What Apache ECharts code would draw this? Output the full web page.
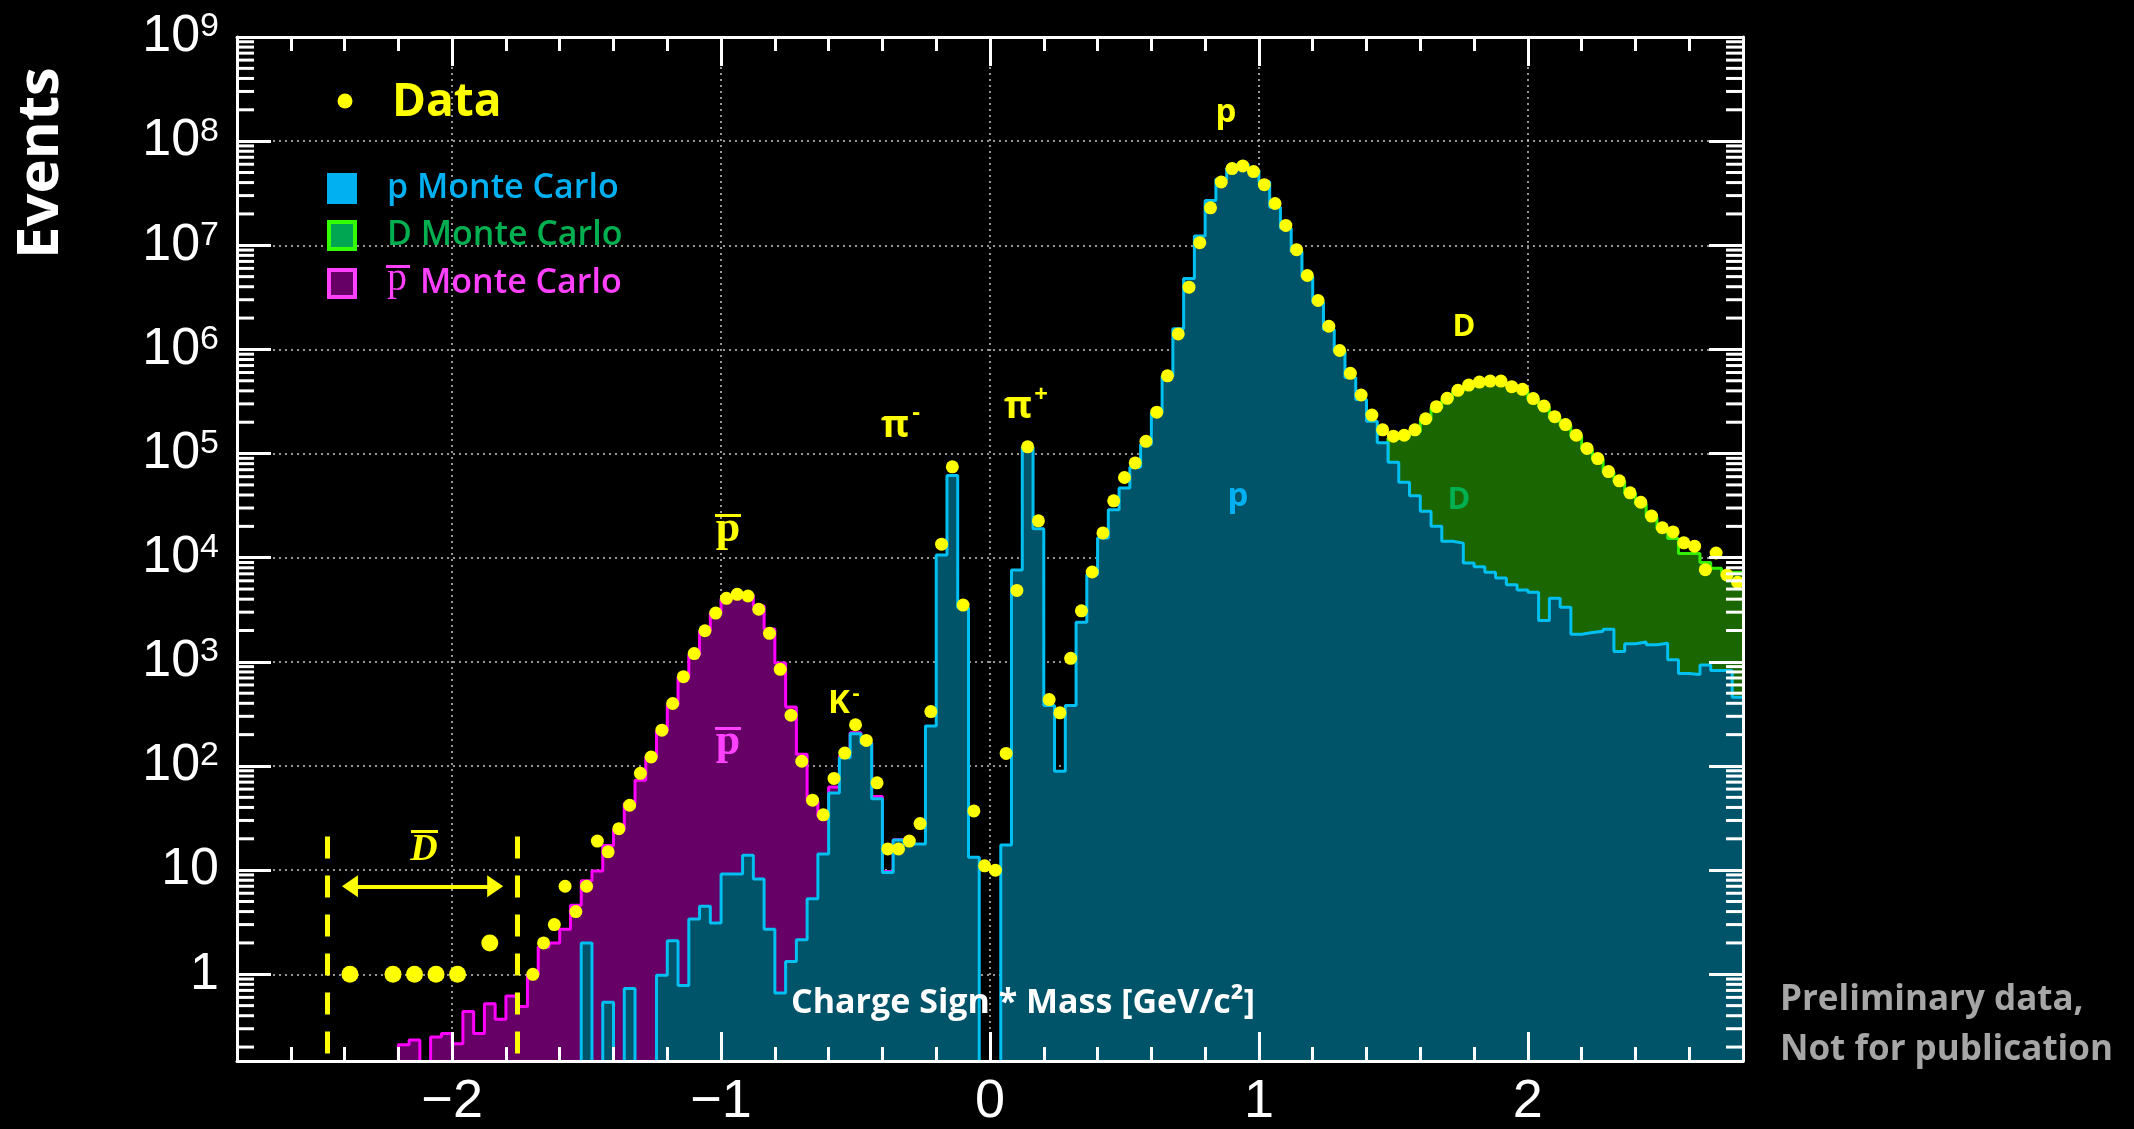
<!DOCTYPE html>
<html>
<head>
<meta charset="utf-8">
<script src="https://cdn.jsdelivr.net/npm/echarts@6/dist/echarts.min.js"></script>
<style>
html,body{margin:0;padding:0;background:#000;}
#chart{width:2134px;height:1129px;}
</style>
</head>
<body>
<div id="chart"></div>
<script>
// ---------- binning ----------
const binLow = -2.8;      // first bin edge
const binWidth = 0.04;    // 140 bins up to +2.8

// ---------- data points (yellow), one value per bin, null = no point ----------
const dataCounts = [
  null,null,null,null,null,null,null,null,null,null,
  null,null,null,null,null,null,null,null,null,null,
  null,null,null,null,null,null,null,1,2,3,
  7,4,7,19,15,25,42,85,122,221,
  398,720,1200,1990,2940,4070,4450,4290,3200,1880,
  847,307,111,47,34,76,133,249,176,69,
  16,16,19,28,333,13500,74600,3510,37,11,
  10,132,4850,116000,22600,434,324,1080,3090,7290,
  17300,35200,58900,81300,131000,250000,558000,1410000,3960000,10600000,
  22900000,40500000,54500000,57800000,51000000,38200000,25200000,15500000,9080000,5130000,
  2950000,1670000,977000,589000,365000,234000,169000,147000,150000,169000,
  216000,282000,339000,405000,455000,486000,497000,497000,439000,414000,
  337000,286000,226000,190000,150000,112000,89500,67100,54700,42000,
  34100,25100,19400,17700,13900,12900,7670,11100,6820,5810
];

// ---------- anti-deuteron candidate region points ----------
const antiDCenters = [-2.38, -2.22, -2.14, -2.06, -1.98, -1.86];
const antiDCounts  = [1, 1, 1, 1, 1, 2];
const antiDWindow  = [-2.465, -1.757];   // dashed window edges
const antiDWindowY = [21, 0.17];         // dashed line vertical extent
const antiDArrow   = [-2.38, -1.84];     // arrow ends
const antiDArrowY  = 7;

// ---------- p Monte Carlo (cyan) ----------
const pMonteCarlo = [
  0,0,0,0,0,0,0,0,0,0,
  0,0,0,0,0,0,0,0,0,0,
  0,0,0,0,0,0,0,0,0,0,
  0,0,2.0,0,0.54,0,0.73,0,0,0.98,
  2.1,0.78,3.4,4.5,3.1,9.2,9.2,13.9,8.2,2.7,
  0.66,1.33,2.14,5.3,14.3,55,120,204,165,48.5,
  9.5,19.5,17.8,17.8,242,10600,61700,3300,13.3,0,
  0,17.4,7600,115000,19000,380,89,380,2400,6900,
  15500,28800,46800,74100,123000,248000,556000,1580000,4790000,12300000,
  26900000,43000000,55000000,60300000,52500000,40700000,23200000,14600000,8700000,5000000,
  2840000,1550000,955000,537000,331000,204000,127000,82600,53100,39300,
  28000,20000,14400,13800,8890,8200,7240,6380,5510,4900,
  4660,2490,4070,3340,1840,1910,1970,2060,1260,1490,
  1550,1460,1510,1050,773,757,933,826,826,458
];

// ---------- anti-proton Monte Carlo (magenta) ----------
const pbarMonteCarlo = [
  0,0,0,0,0,0,0,0,0,0,
  0,0,0,0,0,0.21,0.234,0,0.25,0.27,
  0.215,0.44,0.27,0.52,0.37,0.62,0.49,1.0,1.83,2.0,
  2.7,4.6,7.9,9.8,17.2,24.5,44,73,122,217,
  385,716,1165,1980,2950,4020,4470,4365,3430,2070,
  977,369,130,46,33,63,125,208,168,51,
  9.7,19.6,17.8,0,0,0,0,0,0,0,
  0,0,0,0,0,0,0,0,0,0,
  0,0,0,0,0,0,0,0,0,0,
  0,0,0,0,0,0,0,0,0,0,
  0,0,0,0,0,0,0,0,0,0,
  0,0,0,0,0,0,0,0,0,0,
  0,0,0,0,0,0,0,0,0,0,
  0,0,0,0,0,0,0,0,0,0
];

// ---------- D Monte Carlo (green) ----------
const dMonteCarlo = [
  0,0,0,0,0,0,0,0,0,0,
  0,0,0,0,0,0,0,0,0,0,
  0,0,0,0,0,0,0,0,0,0,
  0,0,0,0,0,0,0,0,0,0,
  0,0,0,0,0,0,0,0,0,0,
  0,0,0,0,0,0,0,0,0,0,
  0,0,0,0,0,0,0,0,0,0,
  0,0,0,0,0,0,0,0,0,0,
  0,0,0,0,0,0,0,0,0,0,
  0,0,0,0,0,0,0,0,0,0,
  0,0,0,0,0,0,0,140000,145000,162000,
  210000,275000,330000,395000,445000,475000,490000,485000,450000,405000,
  330000,280000,220000,185000,147000,110000,88000,66000,54000,41500,
  33000,24500,19000,15300,11000,11000,9000,7900,7250,7250
];

// ---------- axes ----------
const X_MIN = -2.8, X_MAX = 2.8;
const Y_MIN = 0.147, Y_MAX = 1e9;
const yMinorTickMultipliers = [2,3,4,5,6,7,8,9];
const yDecades = [-1,0,1,2,3,4,5,6,7,8];

const EMPTY = 1e-4; // below the axis floor: an empty bin
function histPoints(values) {
  const pts = values.map((v, i) => [+(binLow + i * binWidth).toFixed(4), v > 0 ? v : EMPTY]);
  const last = values[values.length - 1];
  pts.push([+(binLow + values.length * binWidth).toFixed(4), last > 0 ? last : EMPTY]);
  return pts;
}
const dataPoints = [];
dataCounts.forEach((v, i) => { if (v != null) dataPoints.push([+(binLow + (i + 0.5) * binWidth).toFixed(4), v]); });
const antiDPoints = antiDCenters.map((c, i) => [c, antiDCounts[i]]);

const yMinor = [];
yDecades.forEach(d => yMinorTickMultipliers.forEach(m => {
  const v = m * Math.pow(10, d);
  if (v > Y_MIN && v < Y_MAX) yMinor.push([X_MIN, v]);
}));

const WHITE = '#ffffff';
const gridLine = { show: true, lineStyle: { color: '#c8c8c8', type: [2, 4], width: 1.5 } };

function xLabel(v) {
  const r = Math.round(v);
  if (Math.abs(v - r) > 1e-6) return '';
  return r < 0 ? '\u2212' + Math.abs(r) : String(r);
}
function yLabel(v) {
  const l = Math.log10(v);
  const e = Math.round(l);
  if (Math.abs(l - e) > 1e-6) return '';
  if (e === 0) return '{b|1}';
  if (e === 1) return '{b|10}';
  return '{b|10}{s|' + e + '}';
}

const xBase = { type: 'value', min: X_MIN, max: X_MAX, splitNumber: 5 };
const yBase = { type: 'log', logBase: 10, min: Y_MIN, max: Y_MAX, splitNumber: 10 };

const visibleX = (pos, labels) => Object.assign({}, xBase, {
  position: pos, z: 10,
  axisLine: { show: true, onZero: false, lineStyle: { color: WHITE, width: 3 } },
  axisTick: { show: true, inside: true, length: 29, lineStyle: { color: WHITE, width: 3 } },
  minorTick: { show: true, splitNumber: 5, length: 14, lineStyle: { color: WHITE, width: 3 } },
  axisLabel: labels ? { show: true, formatter: xLabel, color: WHITE, fontFamily: 'Liberation Sans', fontSize: 54, margin: 14 } : { show: false },
  splitLine: { show: false }
});
const visibleY = (pos, labels) => Object.assign({}, yBase, {
  position: pos, z: 10,
  axisLine: { show: true, onZero: false, lineStyle: { color: WHITE, width: 3 } },
  axisTick: { show: true, inside: true, length: 34, lineStyle: { color: WHITE, width: 3 } },
  axisLabel: labels ? {
    show: true, formatter: yLabel, margin: 18,
    rich: {
      b: { color: WHITE, fontFamily: 'Liberation Sans', fontSize: 52, lineHeight: 54 },
      s: { color: WHITE, fontFamily: 'Liberation Sans', fontSize: 34, verticalAlign: 'top', lineHeight: 54 }
    }
  } : { show: false },
  splitLine: { show: false }
});

function txt(x, y, text, font, fill, align, extra) {
  return Object.assign({ type: 'text', x: x, y: y, z: 100, silent: true,
    style: { text: text, font: font, fill: fill, textAlign: align || 'center', textVerticalAlign: 'middle' } }, extra || {});
}
function bar(x, y, w, h, fill) {
  return { type: 'rect', z: 100, silent: true, shape: { x: x, y: y, width: w, height: h }, style: { fill: fill } };
}
const YEL = '#ffff00', CYAN_T = '#00b0f0', GREEN_T = '#00b050', MAG_T = '#ff40ff';
const OS = '"Open Sans", "Liberation Sans", sans-serif';
const SERIF = '"Liberation Serif", serif';

const option = {
  backgroundColor: '#000000',
  animation: false,
  grid: { left: 237, right: 391, top: 37, bottom: 63 },
  xAxis: [
    Object.assign({}, xBase, { position: 'bottom', z: 0, axisLine: { show: false }, axisTick: { show: false }, axisLabel: { show: false }, splitLine: gridLine }),
    visibleX('bottom', true),
    visibleX('top', false)
  ],
  yAxis: [
    Object.assign({}, yBase, { position: 'left', z: 0, axisLine: { show: false, onZero: false }, axisTick: { show: false }, axisLabel: { show: false }, splitLine: gridLine }),
    visibleY('left', true),
    visibleY('right', false)
  ],
  series: [
    { name: 'D Monte Carlo', type: 'line', step: 'end', data: histPoints(dMonteCarlo), symbol: 'none', z: 2, silent: true,
      lineStyle: { color: '#33ee00', width: 3 }, areaStyle: { color: '#1a6600', opacity: 1, origin: 'start' } },
    { name: 'pbar Monte Carlo', type: 'line', step: 'end', data: histPoints(pbarMonteCarlo), symbol: 'none', z: 3, silent: true,
      lineStyle: { color: '#ff00ff', width: 3 }, areaStyle: { color: '#660066', opacity: 1, origin: 'start' } },
    { name: 'p Monte Carlo', type: 'line', step: 'end', data: histPoints(pMonteCarlo), symbol: 'none', z: 4, silent: true,
      lineStyle: { color: '#00c0f2', width: 3 }, areaStyle: { color: '#005469', opacity: 1, origin: 'start' } },
    { name: 'Data', type: 'scatter', data: dataPoints, symbol: 'circle', symbolSize: 13, z: 6, silent: true,
      itemStyle: { color: YEL, opacity: 1 } },
    { name: 'antiD', type: 'scatter', data: antiDPoints, symbol: 'circle', symbolSize: 17, z: 6, silent: true,
      itemStyle: { color: YEL, opacity: 1 },
      markLine: { silent: true, symbol: 'none', label: { show: false }, animation: false,
        lineStyle: { color: YEL, width: 5, type: [22, 17], opacity: 1 },
        data: antiDWindow.map(x => [{ coord: [x, antiDWindowY[0]] }, { coord: [x, antiDWindowY[1]] }]) } },
    { name: 'antiDArrow', type: 'line', data: [], z: 6, silent: true,
      markLine: { silent: true, symbol: ['triangle', 'triangle'], symbolSize: [22, 16], label: { show: false }, animation: false,
        itemStyle: { color: YEL },
        lineStyle: { color: YEL, width: 4, type: 'solid', opacity: 1 },
        data: [[{ coord: [antiDArrow[0], antiDArrowY] }, { coord: [antiDArrow[1], antiDArrowY] }]] } },
    { name: 'yMinorTicks', type: 'custom', data: yMinor, z: 11, silent: true, clip: false,
      renderItem: function (params, api) {
        const v = api.value(1);
        const L = api.coord([X_MIN, v]);
        const R = api.coord([X_MAX, v]);
        return { type: 'group', children: [
          { type: 'line', shape: { x1: L[0], y1: L[1], x2: L[0] + 17, y2: L[1] }, style: { stroke: WHITE, lineWidth: 3 } },
          { type: 'line', shape: { x1: R[0], y1: R[1], x2: R[0] - 17, y2: R[1] }, style: { stroke: WHITE, lineWidth: 3 } }
        ] };
      } }
  ],
  graphic: [
    // y-axis title
    txt(41, 163, 'Events', 'bold 58px ' + OS, WHITE, 'center', { rotation: Math.PI / 2 }),
    // legend
    { type: 'circle', z: 100, silent: true, shape: { cx: 345, cy: 101, r: 7.5 }, style: { fill: YEL } },
    txt(392, 103, 'Data', 'bold 46px ' + OS, YEL, 'left'),
    bar(327, 173, 30, 31, CYAN_T),
    txt(387, 188, 'p Monte Carlo', '600 34px ' + OS, CYAN_T, 'left'),
    { type: 'rect', z: 100, silent: true, shape: { x: 329, y: 222, width: 26, height: 27 }, style: { fill: '#00a651', stroke: '#33ff00', lineWidth: 4 } },
    txt(387, 235, 'D Monte Carlo', '600 34px ' + OS, GREEN_T, 'left'),
    { type: 'rect', z: 100, silent: true, shape: { x: 329, y: 270, width: 26, height: 27 }, style: { fill: '#660066', stroke: MAG_T, lineWidth: 4 } },
    txt(397, 279, 'p', '40px ' + SERIF, MAG_T, 'center'),
    bar(386, 265, 24, 3, MAG_T),
    txt(420, 283, 'Monte Carlo', '600 34px ' + OS, MAG_T, 'left'),
    // peak annotations
    txt(1226, 113, 'p', 'bold 33px ' + OS, YEL),
    txt(1464, 327, 'D', 'bold 31px ' + OS, YEL),
    txt(895, 426, '\u03c0', 'bold 38px ' + OS, YEL),
    txt(916, 413, '-', 'bold 24px ' + OS, YEL),
    txt(1018, 407, '\u03c0', 'bold 38px ' + OS, YEL),
    txt(1041, 395, '+', 'bold 24px ' + OS, YEL),
    txt(839, 704, 'K', 'bold 33px ' + OS, YEL),
    txt(856, 694, '-', 'bold 22px ' + OS, YEL),
    txt(728, 530, 'p', 'bold 44px ' + SERIF, YEL),
    bar(715, 514, 26, 3, YEL),
    txt(728, 743, 'p', 'bold 44px ' + SERIF, MAG_T),
    bar(715, 727, 26, 3, MAG_T),
    txt(1238, 497, 'p', 'bold 33px ' + OS, CYAN_T),
    txt(1459, 500, 'D', 'bold 31px ' + OS, GREEN_T),
    txt(424, 850, 'D', 'bold italic 38px ' + SERIF, YEL),
    bar(411, 830, 27, 3, YEL),
    // axis title & note
    txt(1023, 1003, 'Charge Sign * Mass [GeV/c\u00b2]', 'bold 34px ' + OS, WHITE),
    txt(1780, 1000, 'Preliminary data,', 'bold 35px ' + OS, '#a6a6a6', 'left'),
    txt(1780, 1050, 'Not for publication', 'bold 35px ' + OS, '#a6a6a6', 'left')
  ]
};

const chart = echarts.init(document.getElementById('chart'), null, { renderer: 'canvas' });
chart.setOption(option);
</script>
</body>
</html>
